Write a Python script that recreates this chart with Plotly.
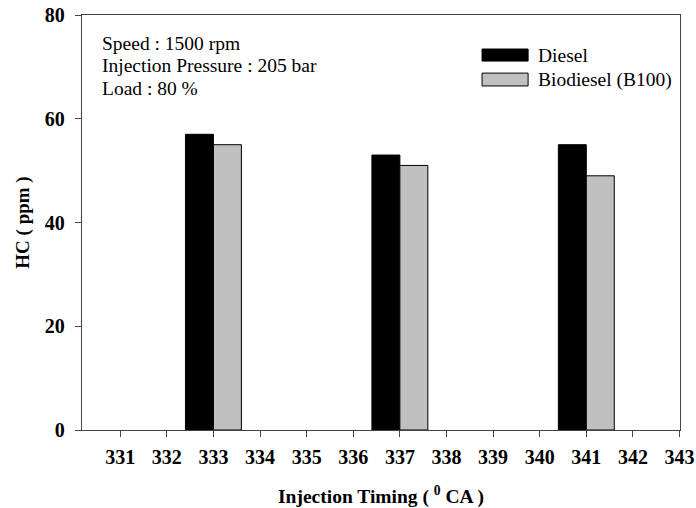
import plotly.graph_objects as go

timing = [333, 337, 341]
diesel = [57, 53, 55]
biodiesel = [55, 51, 49]
tick_vals = list(range(331, 344))
tick_text = [str(v) for v in tick_vals]
y_ticks = [0, 20, 40, 60, 80]

FONT = "Liberation Serif, Times New Roman, serif"

fig = go.Figure()
fig.add_trace(go.Bar(x=timing, y=diesel, name="Diesel", width=0.6, offset=-0.6,
                     marker=dict(color="black", line=dict(color="black", width=1))))
fig.add_trace(go.Bar(x=timing, y=biodiesel, name="Biodiesel (B100)", width=0.6, offset=0,
                     marker=dict(color="#c0c0c0", line=dict(color="black", width=1))))

fig.update_layout(
    width=696, height=508,
    margin=dict(l=82, r=16, t=15, b=78),
    paper_bgcolor="white", plot_bgcolor="white",
    showlegend=False,
    font=dict(family=FONT, color="black"),
)
fig.update_xaxes(
    range=[330.18, 343.01], tickvals=tick_vals, ticktext=tick_text,
    ticks="outside", ticklen=6, tickcolor="#444", tickwidth=1.3,
    showline=True, linecolor="#444", linewidth=1.3, mirror=True,
    showgrid=False, zeroline=False, automargin=False,
    tickfont=dict(family=FONT, size=20, color="black", weight="bold"),
    ticklabelstandoff=3,
    title=dict(text="Injection Timing ( <sup>0</sup> CA )", standoff=22,
               font=dict(family=FONT, size=19.5, color="black", weight="bold")),
)
fig.update_yaxes(
    range=[0, 80], tickvals=y_ticks,
    ticks="outside", ticklen=6, tickcolor="#444", tickwidth=1.3,
    showline=True, linecolor="#444", linewidth=1.3, mirror=True,
    showgrid=False, zeroline=False, automargin=False,
    tickfont=dict(family=FONT, size=20, color="black", weight="bold"),
    ticklabelstandoff=6,
    title=dict(text="HC ( ppm )", standoff=10,
               font=dict(family=FONT, size=19, color="black", weight="bold")),
)

# condition text
info = ["Speed : 1500 rpm", "Injection Pressure : 205 bar", "Load : 80 %"]
for txt, yy in zip(info, [0.9325, 0.8795, 0.824]):
    fig.add_annotation(text=txt, xref="paper", yref="paper", x=0.03, y=yy,
                       xanchor="left", yanchor="middle", showarrow=False,
                       font=dict(family=FONT, size=19.5, color="black"))

# manual legend
legend_items = [("Diesel", "black", 0.918, 0.889), ("Biodiesel (B100)", "#c0c0c0", 0.860, 0.829)]
for name, col, y1, y0 in legend_items:
    fig.add_shape(type="rect", xref="paper", yref="paper", x0=0.669, x1=0.746, y0=y0, y1=y1,
                  fillcolor=col, line=dict(color="black", width=1))
    fig.add_annotation(text=name, xref="paper", yref="paper", x=0.759, y=(y0 + y1) / 2,
                       xanchor="left", yanchor="middle", showarrow=False,
                       font=dict(family=FONT, size=19.5, color="black"))

fig.write_html("out.html", config={"displayModeBar": False},
               post_script="document.body.style.margin='0';document.body.style.overflow='hidden';")
